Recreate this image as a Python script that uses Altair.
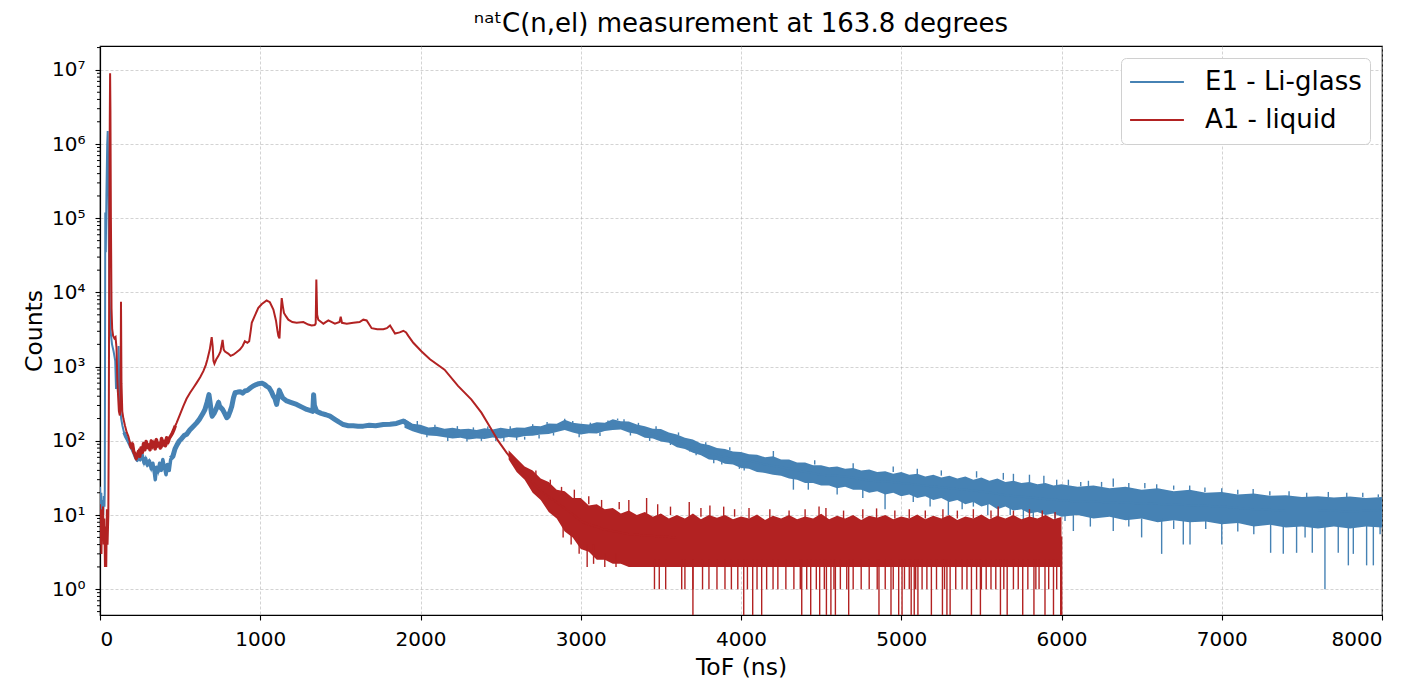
import altair as alt
import pandas as pd

SERIES = ["E1 - Li-glass", "A1 - liquid"]
COLORS = ["#4682b4", "#b22222"]
ZERO_FLOOR = 0.1  # zero counts cannot sit on a log axis: drawn below the frame and clipped

X_TICKS = [0, 1000, 2000, 3000, 4000, 5000, 6000, 7000, 8000]
Y_TICKS = [1, 10, 100, 1000, 10000, 100000, 1000000, 10000000]

# ---------------- E1 - Li-glass (ToF ns, counts) ----------------
e1_trace = [
    (0, 24), (4, 12), (8, 20), (12, 9), (16, 16), (20, 10), (24, 18), (28, 13), (30, 22),
    (33, 1.2e5), (36, 3.5e4), (40, 2e5), (45, 1e6), (48, 1.5e6), (51, 5e5), (55, 5e4),
    (60, 8e3), (66, 3e3), (75, 2e3), (85, 1.6e3), (95, 1.2e3), (100, 500), (106, 1e3),
    (112, 450), (116, 1.9e3), (120, 600), (125, 300), (132, 200), (140, 160), (150, 130),
    (160, 115), (170, 105), (180, 95), (190, 85), (200, 78), (212, 68), (222, 60), (232, 55),
    (240, 62), (250, 56), (262, 66), (275, 50), (285, 58), (295, 47), (308, 54), (320, 42),
    (330, 50), (340, 36), (345, 30), (352, 44), (362, 38), (372, 50), (382, 40), (392, 56),
    (402, 44), (412, 35), (420, 48), (432, 40), (442, 58), (455, 62), (468, 78), (480, 88),
    (495, 100), (510, 108), (525, 118), (541, 123), (560, 140), (580, 155), (603, 175),
    (620, 195), (640, 230), (655, 265), (668, 330), (675, 380), (680, 420), (687, 330),
    (695, 240), (700, 215), (712, 235), (725, 270), (733, 300), (740, 330), (747, 290),
    (755, 280), (765, 265), (778, 235), (791, 205), (800, 215), (812, 250), (822, 290),
    (833, 380), (843, 445), (860, 455), (875, 460), (890, 440), (904, 470), (920, 480),
    (940, 520), (956, 550), (975, 575), (990, 590), (1009, 600), (1025, 580), (1040, 545),
    (1055, 520), (1070, 460), (1082, 400), (1092, 370), (1102, 310), (1110, 380), (1119, 480),
    (1128, 430), (1140, 380), (1165, 345), (1190, 330), (1227, 310), (1260, 285), (1290, 265),
    (1315, 255), (1328, 250), (1333, 420), (1338, 300), (1352, 250), (1380, 235), (1410, 225),
    (1435, 215), (1465, 195), (1490, 180), (1518, 166), (1550, 160), (1580, 160), (1610, 158),
    (1643, 158), (1680, 162), (1720, 160), (1768, 166), (1810, 168), (1850, 172), (1893, 185),
    (1920, 170), (1955, 151), (2011, 142), (2059, 135), (2150, 129), (2250, 125), (2345, 123),
    (2450, 127), (2569, 129), (2650, 132), (2764, 142), (2850, 150), (2904, 166), (2960, 150),
    (3043, 142), (3100, 148), (3160, 155), (3225, 166), (3280, 160), (3321, 150), (3380, 138),
    (3412, 129), (3480, 120), (3537, 116), (3600, 100), (3662, 85), (3740, 76), (3828, 66),
    (3900, 60), (3953, 56), (4057, 54), (4150, 48), (4250, 44), (4380, 39), (4500, 35),
    (4659, 33), (4800, 29), (4938, 28), (5075, 26), (5216, 24), (5350, 22.5), (5495, 21),
    (5653, 18.5), (5773, 17.5), (5900, 16.5), (6052, 15.5), (6250, 15), (6450, 14.5),
    (6650, 14), (6850, 13.5), (7000, 13), (7200, 12), (7400, 11.5), (7600, 11.5),
    (7800, 11.3), (8000, 11.5),
]
# noise envelope (x, low, high)
e1_band = [
    (1900, 150, 198), (1950, 135, 170), (2000, 125, 165), (2050, 118, 152), (2100, 116, 155),
    (2150, 112, 146), (2200, 108, 150), (2250, 110, 143), (2300, 104, 146), (2350, 108, 140),
    (2400, 106, 148), (2450, 111, 142), (2500, 108, 150), (2550, 113, 145), (2600, 110, 152),
    (2650, 116, 150), (2700, 117, 160), (2750, 122, 158), (2800, 124, 172), (2850, 132, 170),
    (2900, 140, 192), (2950, 130, 176), (3000, 122, 170), (3050, 127, 166), (3100, 126, 178),
    (3150, 136, 176), (3200, 140, 196), (3250, 142, 184), (3300, 130, 182), (3350, 124, 166),
    (3400, 110, 158), (3450, 108, 146), (3500, 98, 145), (3550, 94, 130), (3600, 82, 122),
    (3650, 78, 110), (3700, 69, 104), (3750, 64, 92), (3800, 56, 88), (3850, 55, 80),
    (3900, 49, 78), (3950, 48, 72), (4000, 43, 71), (4050, 42, 66), (4100, 38, 65),
    (4150, 37, 60), (4200, 35, 62), (4250, 34, 56), (4300, 31, 56), (4350, 30, 51),
    (4400, 27, 51), (4450, 27, 47), (4500, 25, 47), (4550, 25, 44), (4600, 23, 45),
    (4650, 24, 42), (4700, 22, 43), (4750, 22, 40), (4800, 20, 41), (4850, 21, 38),
    (4900, 19, 39), (4950, 20, 36), (5000, 18, 38), (5050, 19, 35), (5100, 17, 36),
    (5150, 18, 33), (5200, 16, 35), (5250, 17, 32), (5300, 15, 34), (5350, 16, 31),
    (5400, 14, 33), (5450, 15, 30), (5500, 13, 32), (5550, 14, 29), (5600, 12, 31),
    (5650, 13, 28), (5700, 11.5, 29), (5750, 12, 27), (5800, 10.5, 28), (5850, 11, 26),
    (5900, 10, 27), (5950, 10.5, 25), (6000, 9.5, 26), (6100, 10, 24), (6200, 9, 25),
    (6300, 9.5, 23), (6400, 8.5, 24), (6500, 9, 22), (6600, 8, 23), (6700, 8.5, 21),
    (6800, 8, 22), (6900, 8.2, 20), (7000, 7.5, 20.5), (7100, 7.8, 19), (7200, 7, 19.5),
    (7300, 7.4, 18.2), (7400, 6.8, 18.5), (7500, 7, 17.5), (7600, 6.6, 18), (7700, 7, 17.2),
    (7800, 6.6, 17.8), (7900, 7, 17), (8000, 6.8, 17.5),
]
# single-bin excursions (x, tip, base)
e1_spikes = [
    (1980, 185, 160), (2040, 112, 125), (2090, 165, 148), (2170, 100, 114), (2230, 158, 142),
    (2290, 98, 110), (2330, 152, 138), (2380, 100, 112), (2420, 156, 140), (2470, 100, 112),
    (2520, 98, 112), (2560, 158, 142), (2600, 102, 114), (2650, 104, 114), (2700, 168, 152),
    (2740, 108, 120), (2790, 180, 165), (2830, 118, 130), (2900, 198, 185), (2950, 185, 170),
    (2990, 112, 126), (3060, 176, 162), (3120, 116, 130), (3170, 188, 172), (3230, 200, 190),
    (3270, 196, 180), (3310, 118, 132), (3360, 175, 160), (3430, 100, 112), (3470, 158, 142),
    (3560, 88, 98), (3610, 130, 118), (3680, 72, 80), (3720, 64, 72), (3780, 96, 86),
    (3830, 50, 58), (3880, 48, 55), (3930, 82, 74), (3990, 42, 48), (4020, 40, 46),
    (4327, 22, 32), (4420, 22, 28), (4600, 19, 25), (4760, 17, 22),
    (4899, 12, 20), (5075, 15, 18.5), (5180, 13, 17.5), (5294, 10, 16.5), (5380, 12, 15.5),
    (5450, 13, 15), (5540, 10, 14), (5606, 7.5, 13), (5680, 10, 12.5), (5762, 7.8, 12),
    (5824, 9, 11.5), (5900, 8.5, 11), (5959, 7.5, 10.5), (6022, 8.3, 10.5), (6074, 6.1, 10),
    (6180, 7, 10), (6323, 6.1, 9.5), (6420, 7, 9.5), (6500, 5, 9), (6625, 3, 9),
    (6700, 6.5, 8.5), (6760, 4, 8.5), (6802, 4, 8.5), (6900, 6.5, 8.5), (7000, 4, 8.5),
    (7100, 6, 8), (7200, 5.5, 8), (7305, 3.1, 7.5), (7384, 3, 7.5), (7467, 3.1, 7.5),
    (7520, 5, 7.5), (7565, 3.1, 7.5), (7644, 1.0, 7.5), (7727, 3.1, 7.5), (7790, 2.1, 7.5),
    (7821, 3, 7.5), (7904, 2.1, 7.5), (7946, 2.1, 7.5), (7988, 5.5, 7.5),
    (4202, 73, 58), (4460, 55, 48), (4700, 50, 42),
    (4950, 45, 38), (5100, 42, 35), (5250, 40, 34), (5470, 39, 32), (5637, 37, 30),
    (5700, 36, 28), (5800, 35, 27), (5890, 34, 26), (5970, 30, 25), (6043, 30, 25),
    (6120, 28, 24.5), (6168, 29, 24.5), (6250, 28, 24), (6323, 31, 24), (6420, 27, 23),
    (6520, 27, 23), (6594, 26, 22.5), (6700, 25, 22), (6800, 25, 21), (6895, 23.5, 20.5),
    (7000, 23, 19.5), (7100, 22, 19), (7196, 22.5, 18.5), (7300, 21, 18.3), (7420, 21, 18),
    (7530, 20, 17.5), (7665, 20.5, 17.5), (7780, 20, 17.5), (7880, 20, 17.5), (7977, 19, 17.5),
]

# ---------------- A1 - liquid ----------------
a1_trace = [
    (0, 14), (3, 4), (6, 12), (9, 3), (12, 10), (15, 5), (19, 13), (23, 4), (27, 9), (31, 2),
    (35, 7), (39, 2), (43, 12), (47, 4), (52, 10), (55, 200), (58, 5e4), (61, 2e6), (63, 9e6),
    (65, 3e6), (68, 1e5), (72, 6e3), (76, 3.2e3), (82, 2.6e3), (90, 2.4e3), (97, 2.5e3),
    (103, 1.8e3), (108, 700), (113, 400), (118, 250), (124, 220), (128, 300), (131, 7.5e3),
    (134, 600), (139, 250), (146, 200), (156, 160), (167, 130), (177, 115), (187, 95),
    (195, 82), (203, 90), (210, 72), (218, 66), (226, 58), (233, 64), (240, 72), (248, 62),
    (256, 80), (264, 70), (272, 92), (280, 76), (288, 98), (296, 82), (304, 88), (312, 76),
    (320, 100), (328, 84), (336, 95), (344, 78), (352, 104), (360, 86), (368, 92), (376, 80),
    (384, 108), (392, 88), (400, 98), (408, 86), (416, 110), (424, 95), (432, 108), (440, 115),
    (450, 125), (460, 140), (470, 160), (478, 175), (500, 230), (520, 295), (540, 370),
    (562, 445), (583, 520), (603, 605), (625, 720), (645, 870), (660, 1050), (670, 1250),
    (685, 1700), (697, 2500), (703, 1900), (708, 1200), (714, 1100), (725, 1250), (739, 1400),
    (752, 1600), (765, 2300), (772, 1700), (780, 1600), (800, 1500), (815, 1400), (832, 1450),
    (850, 1550), (873, 1700), (890, 1900), (904, 2200), (920, 2100), (931, 2200), (940, 3000),
    (947, 3900), (965, 4800), (988, 6200), (1010, 7000), (1040, 7800), (1060, 7400),
    (1082, 5900), (1098, 4200), (1108, 3000), (1113, 2600), (1120, 2400), (1126, 4500),
    (1134, 8400), (1141, 6500), (1148, 5300), (1160, 4800), (1175, 4300), (1200, 4000),
    (1227, 3900), (1269, 4000), (1300, 3700), (1321, 3600), (1340, 3650), (1346, 3800),
    (1350, 15000), (1355, 5000), (1362, 4300), (1394, 3800), (1425, 4200), (1466, 3800),
    (1495, 4000), (1502, 4700), (1510, 3900), (1540, 3800), (1581, 3900), (1620, 4000),
    (1643, 4300), (1664, 4200), (1695, 3300), (1730, 3200), (1768, 3200), (1790, 3300),
    (1810, 3600), (1841, 2800), (1870, 2900), (1893, 3050), (1910, 2900), (1924, 2600),
    (1955, 2100), (2007, 1600), (2059, 1260), (2150, 910), (2234, 550), (2318, 360),
    (2380, 240), (2429, 160), (2455, 129), (2485, 100), (2538, 69), (2610, 44), (2680, 30),
    (2764, 20), (2847, 15), (2931, 11), (3014, 8), (3138, 6.5), (3300, 5.5), (3600, 5),
    (4000, 5), (4500, 5), (5000, 5), (5500, 5), (5999, 5), (6000, 0),
]
a1_band = [
    (2550, 56, 75), (2600, 38, 58), (2650, 30, 45), (2700, 20, 40), (2750, 16, 31),
    (2800, 11, 28), (2850, 9, 22), (2900, 6, 21), (2950, 5, 17), (3000, 3.5, 17),
    (3050, 3.2, 13.5), (3100, 2.5, 14), (3150, 2.5, 12), (3200, 2.2, 12.5), (3250, 2.2, 10.5),
    (3300, 2, 11.5), (3350, 2, 10), (3400, 2, 11), (3450, 2, 9.5), (3500, 2, 10.5),
    (3550, 2, 9), (3600, 2, 10), (3650, 2, 9), (3700, 2, 10.5), (3750, 2, 8.8),
    (3800, 2, 10), (3850, 2, 9.2), (3900, 2, 10), (3950, 2, 8.8), (4000, 2, 9.6),
    (4050, 2, 9), (4100, 2, 10.2), (4150, 2, 8.6), (4200, 2, 9.8), (4250, 2, 9),
    (4300, 2, 10), (4350, 2, 8.8), (4400, 2, 9.6), (4450, 2, 9), (4500, 2, 10.4),
    (4550, 2, 8.8), (4600, 2, 9.8), (4650, 2, 9), (4700, 2, 10), (4750, 2, 8.6),
    (4800, 2, 9.8), (4850, 2, 9.2), (4900, 2, 10), (4950, 2, 8.8), (5000, 2, 9.6),
    (5050, 2, 9), (5100, 2, 10.2), (5150, 2, 8.8), (5200, 2, 9.8), (5250, 2, 9),
    (5300, 2, 10), (5350, 2, 8.6), (5400, 2, 9.6), (5450, 2, 9), (5500, 2, 10.2),
    (5550, 2, 8.8), (5600, 2, 9.8), (5650, 2, 9), (5700, 2, 10), (5750, 2, 8.8),
    (5800, 2, 9.6), (5850, 2, 9), (5900, 2, 10), (5950, 2, 8.8), (6000, 2, 9.4),
]
a1_spikes = [
    (2720, 40, 33), (2810, 30, 24), (2880, 24, 19), (2960, 22, 17), (3050, 18, 14),
    (3130, 16, 12.5), (3240, 15, 12), (3300, 16, 11), (3411, 17, 10.5), (3480, 14, 10),
    (3560, 13, 10), (3677, 15, 9.5), (3750, 12.5, 9.5), (3806, 13.5, 9.5), (3892, 13, 9.5),
    (3960, 12, 9.5), (4050, 12.5, 9), (4180, 12, 9), (4300, 11.5, 9), (4400, 12, 9),
    (4487, 13, 9), (4530, 12.5, 9), (4640, 11.5, 9), (4760, 12, 9), (4846, 12.3, 9),
    (4960, 11.5, 9), (5050, 12, 9), (5150, 11.5, 9), (5260, 12, 9), (5350, 11.5, 9),
    (5450, 12, 9), (5560, 11.5, 9), (5605, 13, 9), (5700, 11.5, 9), (5800, 12, 9),
    (5880, 11.5, 9), (5960, 11, 9),
    (2890, 5, 7), (2940, 4, 6), (2990, 3, 5), (3040, 2, 4), (3080, 2.2, 4), (3150, 2, 3),
    (3220, 2, 3),
]
# bins that fall to 0 counts and to 1 count
a1_zero_x = [3700, 4017, 4073, 4129, 4379, 4435, 4491, 4533, 4561, 4589, 4672, 4861, 4936,
             4984, 5005, 5062, 5081, 5104, 5188, 5257, 5285, 5305, 5438, 5494, 5619, 5661,
             5758, 5828, 5897, 5950, 5995]
a1_one_x = [3460, 3490, 3530, 3630, 3650, 3700, 3760, 3800, 3850, 3900, 3940, 3980, 4040,
            4100, 4160, 4200, 4230, 4280, 4330, 4370, 4410, 4470, 4520, 4580, 4620, 4660,
            4700, 4750, 4800, 4850, 4900, 4950, 5020, 5050, 5090, 5130, 5160, 5220, 5270,
            5340, 5380, 5410, 5470, 5500, 5530, 5560, 5590, 5640, 5700, 5730, 5790, 5840,
            5860, 5920, 5970]
A1_FLOOR_BASE = 2.5


def pos(v):
    return v if v > 0 else ZERO_FLOOR


def trace_df(rows, name):
    return pd.DataFrame([(x, pos(y)) for x, y in rows], columns=["x", "y"]).assign(series=name)


def band_df(rows):
    return pd.DataFrame(rows, columns=["x", "lo", "hi"])


def spike_df(rows):
    return pd.DataFrame([(x, pos(t), b) for x, t, b in rows], columns=["x", "tip", "base"])


a1_all_spikes = (a1_spikes + [(x, 0, A1_FLOOR_BASE) for x in a1_zero_x]
                 + [(x, 1, A1_FLOOR_BASE) for x in a1_one_x])

xs = alt.Scale(domain=[0, 8000], nice=False, zero=False)
ys = alt.Scale(type="log", domain=[0.45, 2.1e7], nice=False)

x_axis = alt.Axis(values=X_TICKS, format="d", title="ToF (ns)", titleX=641, titleY=59,
                  titleAlign="center", titleBaseline="alphabetic", labelPadding=9, tickSize=5)
y_axis = alt.Axis(values=Y_TICKS,
                  labelExpr="'10' + ['⁰','¹','²','³','⁴','⁵','⁶','⁷'][round(log(datum.value)/LN10)]",
                  title="Counts", titleX=-59, titleY=284.5, titleAngle=270, titleAlign="center",
                  titleBaseline="alphabetic", labelPadding=10, tickSize=5)

cscale = alt.Scale(domain=SERIES, range=COLORS)
legend = alt.Legend(title=None, orient="top-right", offset=12, symbolType="stroke",
                    symbolSize=2900, symbolStrokeWidth=1.8, labelFontSize=26,
                    labelFont="DejaVu Sans", labelColor="black", labelOffset=20, labelLimit=400,
                    padding=8, rowPadding=6, clipHeight=32, strokeColor="#d0d0d0",
                    fillColor="white", cornerRadius=5)

X = alt.X("x:Q", scale=xs, axis=x_axis)


def band_layer(rows, color):
    return alt.Chart(band_df(rows)).mark_area(clip=True, color=color, opacity=1).encode(
        x=X, y=alt.Y("lo:Q", scale=ys, axis=y_axis), y2="hi:Q")


def spike_layer(rows, color):
    return alt.Chart(spike_df(rows)).mark_rule(clip=True, color=color, strokeWidth=1.4).encode(
        x=X, y=alt.Y("tip:Q", scale=ys, axis=y_axis), y2="base:Q")


def trace_layer(rows, name):
    return alt.Chart(trace_df(rows, name)).mark_line(clip=True, strokeWidth=2).encode(
        x=X, y=alt.Y("y:Q", scale=ys, axis=y_axis),
        color=alt.Color("series:N", scale=cscale, legend=legend))


def noisy_stretch(rows, name, color, lo_x, hi_x, width):
    # the same trace, drawn wider over a stretch where the bin-to-bin scatter thickens it
    return alt.Chart(trace_df(rows, name)).transform_filter(
        f"datum.x >= {lo_x} && datum.x <= {hi_x}").mark_line(
        clip=True, strokeWidth=width, strokeJoin="round", color=color).encode(
        x=X, y=alt.Y("y:Q", scale=ys, axis=y_axis))


minor_vals = [k * 10.0 ** e for e in range(-1, 8) for k in range(2, 10)
              if 0.45 < k * 10.0 ** e < 2.1e7]
minor = alt.Chart(pd.DataFrame({"v": minor_vals})).mark_rule(color="black", strokeWidth=1).encode(
    y=alt.Y("v:Q", scale=ys, axis=y_axis), x=alt.value(0), x2=alt.value(-3))

chart = alt.layer(
    band_layer(e1_band, COLORS[0]),
    spike_layer(e1_spikes, COLORS[0]),
    noisy_stretch(e1_trace, SERIES[0], COLORS[0], 150, 445, 3.5),
    noisy_stretch(e1_trace, SERIES[0], COLORS[0], 440, 1960, 5),
    trace_layer(e1_trace, SERIES[0]),
    band_layer(a1_band, COLORS[1]),
    spike_layer(a1_all_spikes, COLORS[1]),
    noisy_stretch(a1_trace, SERIES[1], COLORS[1], 180, 470, 3.5),
    trace_layer(a1_trace, SERIES[1]),
    minor,
).properties(
    width=1282, height=569,
    padding={"left": 92, "top": 38, "right": 18, "bottom": 70},
    autosize=alt.AutoSizeParams(type="none"),
    title=alt.TitleParams(text="ⁿᵃᵗC(n,el) measurement at 163.8 degrees", fontSize=26,
                          font="DejaVu Sans", fontWeight="normal", anchor="middle",
                          baseline="alphabetic", offset=13, dy=25, color="black"),
).configure_view(stroke="black", strokeWidth=1.2).configure_axis(
    labelFont="DejaVu Sans", labelFontSize=20, labelColor="black",
    titleFont="DejaVu Sans", titleFontSize=23.5, titleFontWeight="normal", titleColor="black",
    domainColor="black", domainWidth=1.2, tickColor="black", tickWidth=1.1,
    gridColor="#b0b0b0", gridOpacity=0.7, gridWidth=0.8, gridDash=[3, 2],
)

chart.save("out.html", embed_options={"renderer": "svg", "actions": False})
